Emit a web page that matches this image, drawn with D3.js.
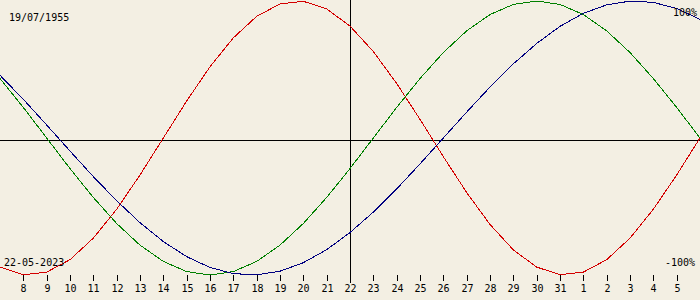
<!DOCTYPE html>
<html>
<head>
<meta charset="utf-8">
<script src="https://cdn.jsdelivr.net/npm/d3@7/dist/d3.min.js"></script>
<style>
  html, body { margin: 0; padding: 0; background: #f3efe3; }
  svg { display: block; }
  text { font-family: "DejaVu Sans Mono", monospace; font-size: 10px; fill: #000; }
</style>
</head>
<body>
<div id="chart"></div>
<script>
// Day of month for each plotted point (7 May .. 6 June 2023)
const days = [7, 8, 9, 10, 11, 12, 13, 14, 15, 16, 17, 18, 19, 20, 21, 22, 23, 24, 25, 26, 27, 28, 29, 30, 31, 1, 2, 3, 4, 5, 6];

// Series values (-1 .. 1), one per day
const physical = [-0.942, -0.998, -0.979, -0.888, -0.731, -0.520, -0.270, 0, 0.270, 0.520, 0.731, 0.888, 0.979, 0.998, 0.942, 0.817, 0.631, 0.398, 0.136, -0.136, -0.398, -0.631, -0.817, -0.942, -0.998, -0.979, -0.888, -0.731, -0.520, -0.270, 0];
const emotional = [0.434, 0.223, 0, -0.223, -0.434, -0.624, -0.782, -0.901, -0.975, -1, -0.975, -0.901, -0.782, -0.624, -0.434, -0.223, 0, 0.223, 0.434, 0.624, 0.782, 0.901, 0.975, 1, 0.975, 0.901, 0.782, 0.624, 0.434, 0.223, 0];
const intellectual = [0.458, 0.282, 0.095, -0.095, -0.282, -0.458, -0.618, -0.756, -0.866, -0.945, -0.990, -0.999, -0.972, -0.910, -0.815, -0.690, -0.541, -0.372, -0.189, 0, 0.189, 0.372, 0.541, 0.690, 0.815, 0.910, 0.972, 0.999, 0.990, 0.945, 0.866];

const birthLabel = "19/07/1955";
const dateLabel = "22-05-2023";
const todayIndex = 15;

const width = 700, height = 300;

const svg = d3.select("#chart").append("svg")
  .attr("width", width)
  .attr("height", height);

svg.append("rect").attr("width", width).attr("height", height).attr("fill", "#f3efe3");

// Scales
const x = d3.scaleLinear().domain([0, days.length - 1]).range([0, width]);
const y = d3.scaleLinear().domain([-1, 1]).range([275, 1]);

// Axis lines
svg.append("line")
  .attr("x1", 0).attr("x2", width)
  .attr("y1", 140.5).attr("y2", 140.5)
  .attr("stroke", "#000");

svg.append("line")
  .attr("x1", Math.round(x(todayIndex)) + 0.5).attr("x2", Math.round(x(todayIndex)) + 0.5)
  .attr("y1", 0).attr("y2", 283)
  .attr("stroke", "#000");

// Day ticks (skip the first and last point, which sit on the edges)
const tickIdx = d3.range(1, days.length - 1);

svg.selectAll(".tick")
  .data(tickIdx.filter(i => i !== todayIndex))
  .join("line")
  .attr("class", "tick")
  .attr("x1", i => Math.round(x(i)) + 0.5)
  .attr("x2", i => Math.round(x(i)) + 0.5)
  .attr("y1", 275).attr("y2", 281)
  .attr("stroke", "#000");

svg.selectAll(".tick-label")
  .data(tickIdx)
  .join("text")
  .attr("class", "tick-label")
  .attr("x", i => Math.round(x(i)) + 0.5)
  .attr("y", 292)
  .attr("text-anchor", "middle")
  .text(i => days[i]);

// Curves
const line = d3.line()
  .x((d, i) => x(i))
  .y(d => y(d));

const series = [
  { values: physical, color: "#d40000" },
  { values: emotional, color: "#008000" },
  { values: intellectual, color: "#000080" },
];

svg.selectAll(".curve")
  .data(series)
  .join("path")
  .attr("class", "curve")
  .attr("d", d => line(d.values))
  .attr("fill", "none")
  .attr("stroke", d => d.color)
  .attr("stroke-width", 1)
  .attr("shape-rendering", "crispEdges");

// Labels
svg.append("text").attr("x", 9).attr("y", 21).text(birthLabel);
svg.append("text").attr("x", 4).attr("y", 266).text(dateLabel);
svg.append("text").attr("x", 697).attr("y", 16).attr("text-anchor", "end").text("100%");
svg.append("text").attr("x", 695).attr("y", 266).attr("text-anchor", "end").text("-100%");
</script>
</body>
</html>
